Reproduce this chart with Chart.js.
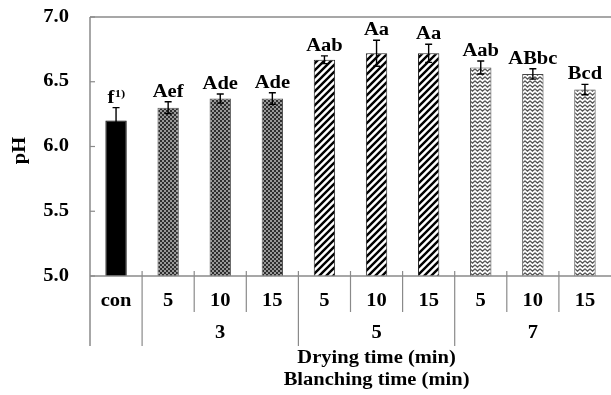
<!DOCTYPE html>
<html>
<head>
<meta charset="utf-8">
<script src="https://cdn.jsdelivr.net/npm/chart.js@4.4.1/dist/chart.umd.min.js"></script>
<style>
  html, body { margin: 0; padding: 0; background: #fff; }
  #wrap { width: 611px; height: 395px; position: relative; }
</style>
</head>
<body>
<div id="wrap"><canvas id="chart" width="611" height="395"></canvas></div>
<script>
const dryingLabels = ['con', '5', '10', '15', '5', '10', '15', '5', '10', '15'];
const blanchingLabels = ['3', '5', '7'];
const phValues = [6.20, 6.30, 6.37, 6.37, 6.67, 6.72, 6.72, 6.61, 6.56, 6.44];
const phErrors = [0.10, 0.045, 0.035, 0.045, 0.03, 0.10, 0.07, 0.05, 0.04, 0.04];
const letters = ['f', 'Aef', 'Ade', 'Ade', 'Aab', 'Aa', 'Aa', 'Aab', 'ABbc', 'Bcd'];
const yTicks = [5.0, 5.5, 6.0, 6.5, 7.0];

const FONT = "'Liberation Serif', 'Times New Roman', serif";
const STRETCH = 1.14;

function makeTile(w, h, draw) {
    const c = document.createElement('canvas');
    c.width = w;
    c.height = h;
    const g = c.getContext('2d');
    draw(g);
    return document.getElementById('chart').getContext('2d').createPattern(c, 'repeat');
}

const dotPattern = makeTile(4, 4, g => {
    g.fillStyle = '#999';
    g.fillRect(0, 0, 4, 4);
    g.fillStyle = '#2e2e2e';
    g.fillRect(0, 0, 2, 2);
    g.fillRect(2, 2, 2, 2);
});

const stripePattern = makeTile(7, 7, g => {
    g.fillStyle = '#fff';
    g.fillRect(0, 0, 7, 7);
    g.strokeStyle = '#000';
    g.lineWidth = 2.4;
    g.beginPath();
    g.moveTo(-1, 8); g.lineTo(8, -1);
    g.moveTo(-2, 2); g.lineTo(2, -2);
    g.moveTo(5, 9); g.lineTo(9, 5);
    g.stroke();
});

const zigPattern = makeTile(5, 4, g => {
    g.fillStyle = '#fff';
    g.fillRect(0, 0, 5, 4);
    g.strokeStyle = '#555';
    g.lineWidth = 1.2;
    g.beginPath();
    g.moveTo(0, 0.8); g.lineTo(2.5, 3.2); g.lineTo(5, 0.8);
    g.stroke();
});

const barFills = ['#000', dotPattern, dotPattern, dotPattern, stripePattern, stripePattern, stripePattern, zigPattern, zigPattern, zigPattern];
const barBorders = ['#000', '#555', '#555', '#555', '#222', '#222', '#222', '#444', '#444', '#444'];

// wider text like the original figure
function wideText(ctx, text, x, y) {
    ctx.save();
    ctx.translate(x, y);
    ctx.scale(STRETCH, 1);
    ctx.fillText(text, 0, 0);
    ctx.restore();
}

const decorPlugin = {
    id: 'decor',
    afterDatasetsDraw(chart) {
        const ctx = chart.ctx;
        const x = chart.scales.x;
        const y = chart.scales.y;
        const area = chart.chartArea;

        ctx.save();
        // error bars
        ctx.strokeStyle = '#000';
        ctx.lineWidth = 1.4;
        phValues.forEach((v, i) => {
            const cx = x.getPixelForValue(i);
            const top = y.getPixelForValue(v + phErrors[i]);
            const bot = y.getPixelForValue(v - phErrors[i]);
            ctx.beginPath();
            ctx.moveTo(cx, top); ctx.lineTo(cx, bot);
            ctx.moveTo(cx - 3.5, top); ctx.lineTo(cx + 3.5, top);
            ctx.moveTo(cx - 3.5, bot); ctx.lineTo(cx + 3.5, bot);
            ctx.stroke();
        });

        // letters above bars
        ctx.fillStyle = '#000';
        ctx.textAlign = 'center';
        ctx.textBaseline = 'alphabetic';
        phValues.forEach((v, i) => {
            const cx = x.getPixelForValue(i);
            const top = y.getPixelForValue(v + phErrors[i]) - 5;
            if (i === 0) {
                ctx.font = 'bold 18px ' + FONT;
                const w1 = ctx.measureText(letters[i]).width * STRETCH;
                ctx.font = 'bold 11px ' + FONT;
                const w2 = ctx.measureText('1)').width * STRETCH;
                const start = cx - (w1 + w2) / 2;
                ctx.textAlign = 'left';
                ctx.font = 'bold 18px ' + FONT;
                wideText(ctx, letters[i], start, top);
                ctx.font = 'bold 11px ' + FONT;
                wideText(ctx, '1)', start + w1 + 0.5, top - 6);
                ctx.textAlign = 'center';
            } else {
                ctx.font = 'bold 18px ' + FONT;
                wideText(ctx, letters[i], cx, top);
            }
        });

        // frame lines
        ctx.strokeStyle = '#8a8a8a';
        ctx.lineWidth = 1.5;
        ctx.beginPath();
        ctx.moveTo(area.left, area.top); ctx.lineTo(chart.width, area.top);
        ctx.moveTo(area.left, area.bottom); ctx.lineTo(chart.width, area.bottom);
        ctx.moveTo(area.left, area.top); ctx.lineTo(area.left, area.bottom + 70);
        ctx.stroke();

        // inward y ticks
        ctx.lineWidth = 1.2;
        yTicks.forEach(t => {
            const py = y.getPixelForValue(t);
            ctx.beginPath();
            ctx.moveTo(area.left, py); ctx.lineTo(area.left + 5, py);
            ctx.stroke();
        });

        // x separators
        for (let b = 1; b < dryingLabels.length; b++) {
            const bx = x.getPixelForValue(b - 0.5);
            const isLong = b === 1 || b === 4 || b === 7;
            ctx.beginPath();
            ctx.moveTo(bx, area.bottom - 5);
            ctx.lineTo(bx, area.bottom + (isLong ? 70 : 36));
            ctx.stroke();
        }

        // y tick labels and title
        ctx.fillStyle = '#000';
        ctx.font = 'bold 18px ' + FONT;
        ctx.textAlign = 'right';
        ctx.textBaseline = 'middle';
        yTicks.forEach(t => {
            wideText(ctx, t.toFixed(1), area.left - 21, y.getPixelForValue(t));
        });
        ctx.save();
        ctx.translate(20, (area.top + area.bottom) / 2 + 4);
        ctx.rotate(-Math.PI / 2);
        ctx.textAlign = 'center';
        wideText(ctx, 'pH', 0, 0);
        ctx.restore();

        // category labels
        ctx.textAlign = 'center';
        dryingLabels.forEach((lab, i) => {
            wideText(ctx, lab, x.getPixelForValue(i), area.bottom + 25);
        });
        blanchingLabels.forEach((lab, g) => {
            wideText(ctx, lab, x.getPixelForValue(2 + g * 3), area.bottom + 57);
        });
        const midX = x.getPixelForValue(5);
        wideText(ctx, 'Drying time (min)', midX, area.bottom + 82);
        wideText(ctx, 'Blanching time (min)', midX, area.bottom + 104);
        ctx.restore();
    }
};

new Chart(document.getElementById('chart'), {
    type: 'bar',
    data: {
        labels: dryingLabels.map((d, i) => i),
        datasets: [{
            label: 'pH',
            data: phValues,
            backgroundColor: barFills,
            borderColor: barBorders,
            borderWidth: 1,
            borderSkipped: 'bottom',
            barPercentage: 0.41,
            categoryPercentage: 1.0
        }]
    },
    options: {
        responsive: false,
        animation: false,
        layout: { padding: { top: 17, bottom: 119, right: 0, left: 0 } },
        plugins: { legend: { display: false }, tooltip: { enabled: false } },
        scales: {
            x: { display: false },
            y: {
                min: 5,
                max: 7,
                afterFit: s => { s.width = 90; },
                afterBuildTicks: s => { s.ticks = yTicks.map(v => ({ value: v })); },
                grid: { display: false, drawTicks: false },
                border: { display: false },
                ticks: { display: false }
            }
        }
    },
    plugins: [decorPlugin]
});
</script>
</body>
</html>
